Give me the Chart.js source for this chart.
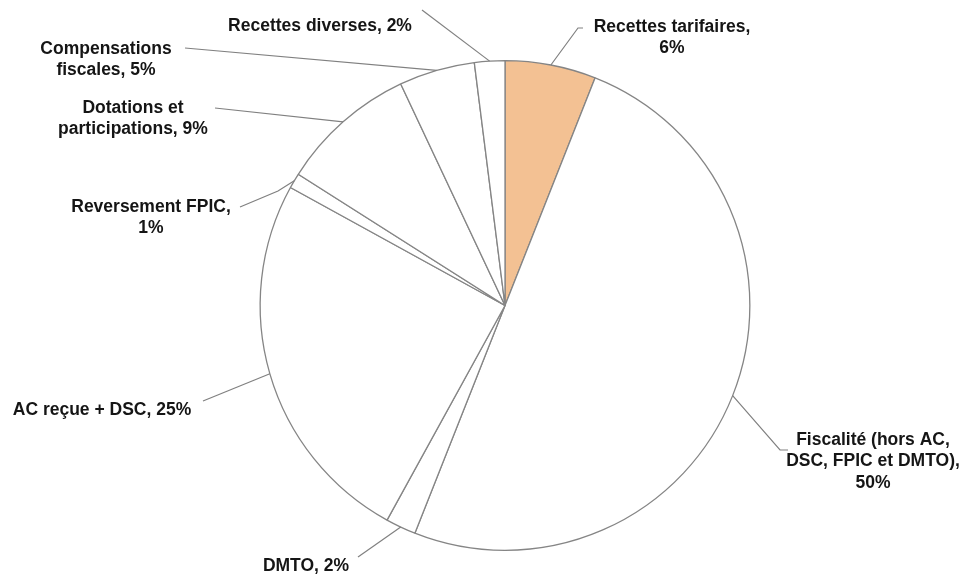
<!DOCTYPE html>
<html>
<head>
<meta charset="utf-8">
<script src="https://cdn.jsdelivr.net/npm/chart.js@4.4.0/dist/chart.umd.min.js"></script>
<style>
  html, body { margin: 0; padding: 0; background: #fff; }
  #wrap { width: 965px; height: 577px; }
</style>
</head>
<body>
<div id="wrap"><canvas id="pie" width="965" height="577"></canvas></div>
<script>
// --- data ---
const categories = [
  'Recettes tarifaires',
  'Fiscalité (hors AC, DSC, FPIC et DMTO)',
  'DMTO',
  'AC reçue + DSC',
  'Reversement FPIC',
  'Dotations et participations',
  'Compensations fiscales',
  'Recettes diverses'
];
const shares = [6, 50, 2, 25, 1, 9, 5, 2];
const sliceColors = ['#F3C193', '#fff', '#fff', '#fff', '#fff', '#fff', '#fff', '#fff'];

// label text lines (as printed in the picture)
const labelLines = [
  ['Recettes tarifaires,', '6%'],
  ['Fiscalité (hors AC,', 'DSC, FPIC et DMTO),', '50%'],
  ['DMTO, 2%'],
  ['AC reçue + DSC, 25%'],
  ['Reversement FPIC,', '1%'],
  ['Dotations et', 'participations, 9%'],
  ['Compensations', 'fiscales, 5%'],
  ['Recettes diverses, 2%']
];

// layout of labels: leader path (after the arc point) and text anchor
const labelLayout = [
  { path: [[578, 28], [583, 28]], tx: 672, ty: 27 },
  { path: [[780, 450], [788, 450]], tx: 873, ty: 440 },
  { path: [[358, 557]], tx: 306, ty: 566 },
  { path: [[203, 401]], tx: 102, ty: 410 },
  { path: [[278, 191], [240, 207]], tx: 151, ty: 207 },
  { path: [[215, 108]], tx: 133, ty: 108 },
  { path: [[185, 48]], tx: 106, ty: 49 },
  { path: [[422, 10]], tx: 320, ty: 26 }
];

const leaderLabels = {
  id: 'leaderLabels',
  afterDatasetsDraw(chart) {
    const ctx = chart.ctx;
    const meta = chart.getDatasetMeta(0);
    ctx.save();
    meta.data.forEach((arc, i) => {
      const p = arc.getProps(['x', 'y', 'startAngle', 'endAngle', 'outerRadius'], true);
      const mid = (p.startAngle + p.endAngle) / 2;
      const sx = p.x + Math.cos(mid) * p.outerRadius;
      const sy = p.y + Math.sin(mid) * p.outerRadius;
      const lay = labelLayout[i];
      ctx.strokeStyle = '#808080';
      ctx.lineWidth = 1.2;
      ctx.beginPath();
      ctx.moveTo(sx, sy);
      lay.path.forEach(pt => ctx.lineTo(pt[0], pt[1]));
      ctx.stroke();

      ctx.fillStyle = '#151515';
      ctx.font = 'bold 17.5px "Liberation Sans", Arial, sans-serif';
      ctx.textAlign = 'center';
      ctx.textBaseline = 'middle';
      labelLines[i].forEach((line, k) => {
        ctx.fillText(line, lay.tx, lay.ty + k * 21.5);
      });
    });
    ctx.restore();
  }
};

new Chart(document.getElementById('pie'), {
  type: 'pie',
  data: {
    labels: categories,
    datasets: [{
      data: shares,
      backgroundColor: sliceColors,
      borderColor: '#858585',
      borderWidth: 1.3,
      borderAlign: 'center'
    }]
  },
  options: {
    responsive: false,
    animation: false,
    events: [],
    layout: { padding: { left: 259.5, right: 214.5, top: 60, bottom: 26 } },
    plugins: {
      legend: { display: false },
      tooltip: { enabled: false }
    }
  },
  plugins: [leaderLabels]
});
</script>
</body>
</html>
